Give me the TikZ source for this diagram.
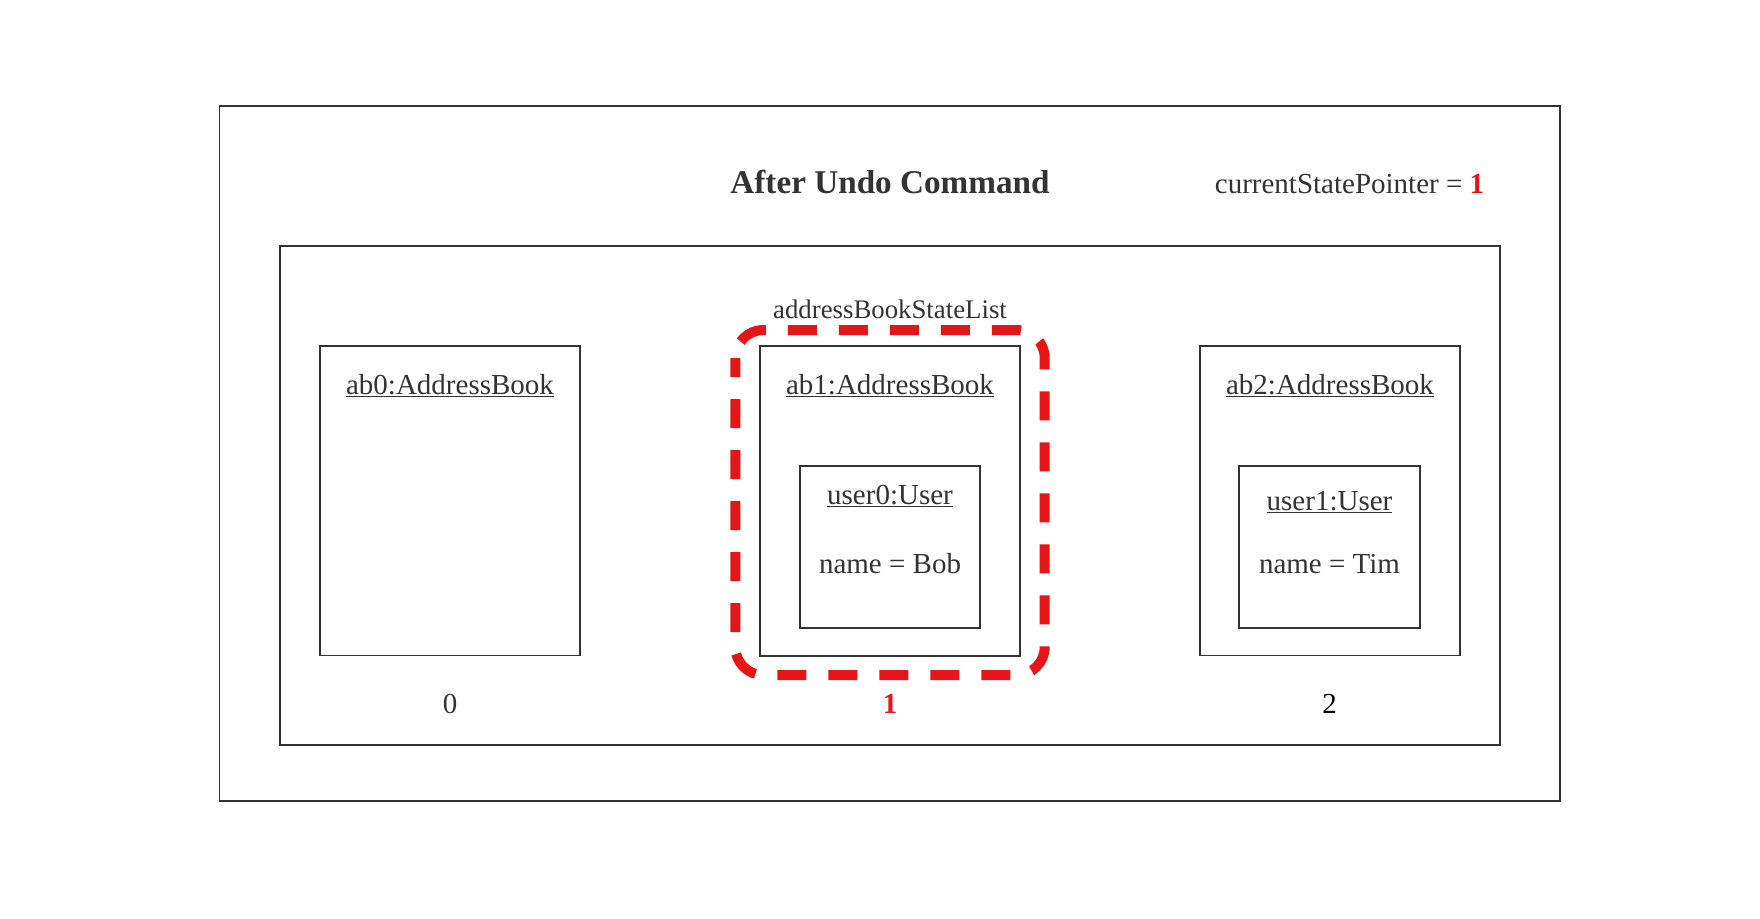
\documentclass[tikz,border=0pt]{standalone}
\usepackage{fontspec}
\setmainfont{Liberation Serif}
\definecolor{ink}{HTML}{333333}
\definecolor{hl}{HTML}{E61618}
\tikzset{
  box/.style={draw=ink, line width=1.7pt, inner sep=0pt, outer sep=0pt, anchor=north west},
  txt/.style={text=ink, inner sep=0pt, anchor=base, font=\fontsize{29}{34}\selectfont},
  ttl/.style={text=ink, inner sep=0pt, anchor=base, font=\fontsize{33.2}{38}\selectfont\bfseries},
  sel/.style={draw=hl, line width=10pt, rounded corners=28pt, dash pattern=on 29pt off 22pt, dash phase=10pt}
}
\begin{document}
\begin{tikzpicture}[x=1pt,y=-1pt]
\useasboundingbox[fill=white] (0,0) rectangle (1760,918);
% frames
\node[box, minimum width=1340.5pt, minimum height=695.3pt] (outer) at (219.5,105.7) {};
\node[box, minimum width=1220pt, minimum height=499.6pt] (list) at (279.7,245.7) {};
% address books
\node[box, minimum width=260.5pt, minimum height=309.5pt] (ab0) at (319.7,346) {};
\node[box, minimum width=260.3pt, minimum height=310pt] (ab1) at (759.7,346) {};
\node[box, minimum width=260.3pt, minimum height=309.5pt] (ab2) at (1200,346) {};
% users
\node[box, minimum width=180.3pt, minimum height=162pt] (u0) at (799.7,465.7) {};
\node[box, minimum width=180.7pt, minimum height=161.8pt] (u1) at (1239.3,466) {};
% highlight
\draw[sel] (735.3,330) rectangle (1044.7,675);
% texts
\node[ttl] (title) at (890,193.5) {After Undo Command};
\node[txt] (ptr) at (1349.5,193.5) {currentStatePointer = \textcolor{hl}{\textbf{1}}};
\node[txt, font=\fontsize{26.8}{32}\selectfont] (lname) at (890,318) {addressBookStateList};
\node[txt] (ab0t) at (450,394.5) {\underline{ab0:AddressBook}};
\node[txt] (ab1t) at (890,394.5) {\underline{ab1:AddressBook}};
\node[txt] (ab2t) at (1330,394.5) {\underline{ab2:AddressBook}};
\node[txt] (u0t) at (890,504) {\underline{user0:User}};
\node[txt] (u1t) at (1329.5,510) {\underline{user1:User}};
\node[txt] (u0n) at (890,573.5) {name = Bob};
\node[txt] (u1n) at (1329.5,573.5) {name = Tim};
\node[txt] (i0) at (450,713) {0};
\node[txt, text=hl, font=\fontsize{29}{34}\selectfont\bfseries] (i1) at (890,713) {1};
\node[txt, text=black] (i2) at (1329.5,713) {2};
\end{tikzpicture}
\end{document}
